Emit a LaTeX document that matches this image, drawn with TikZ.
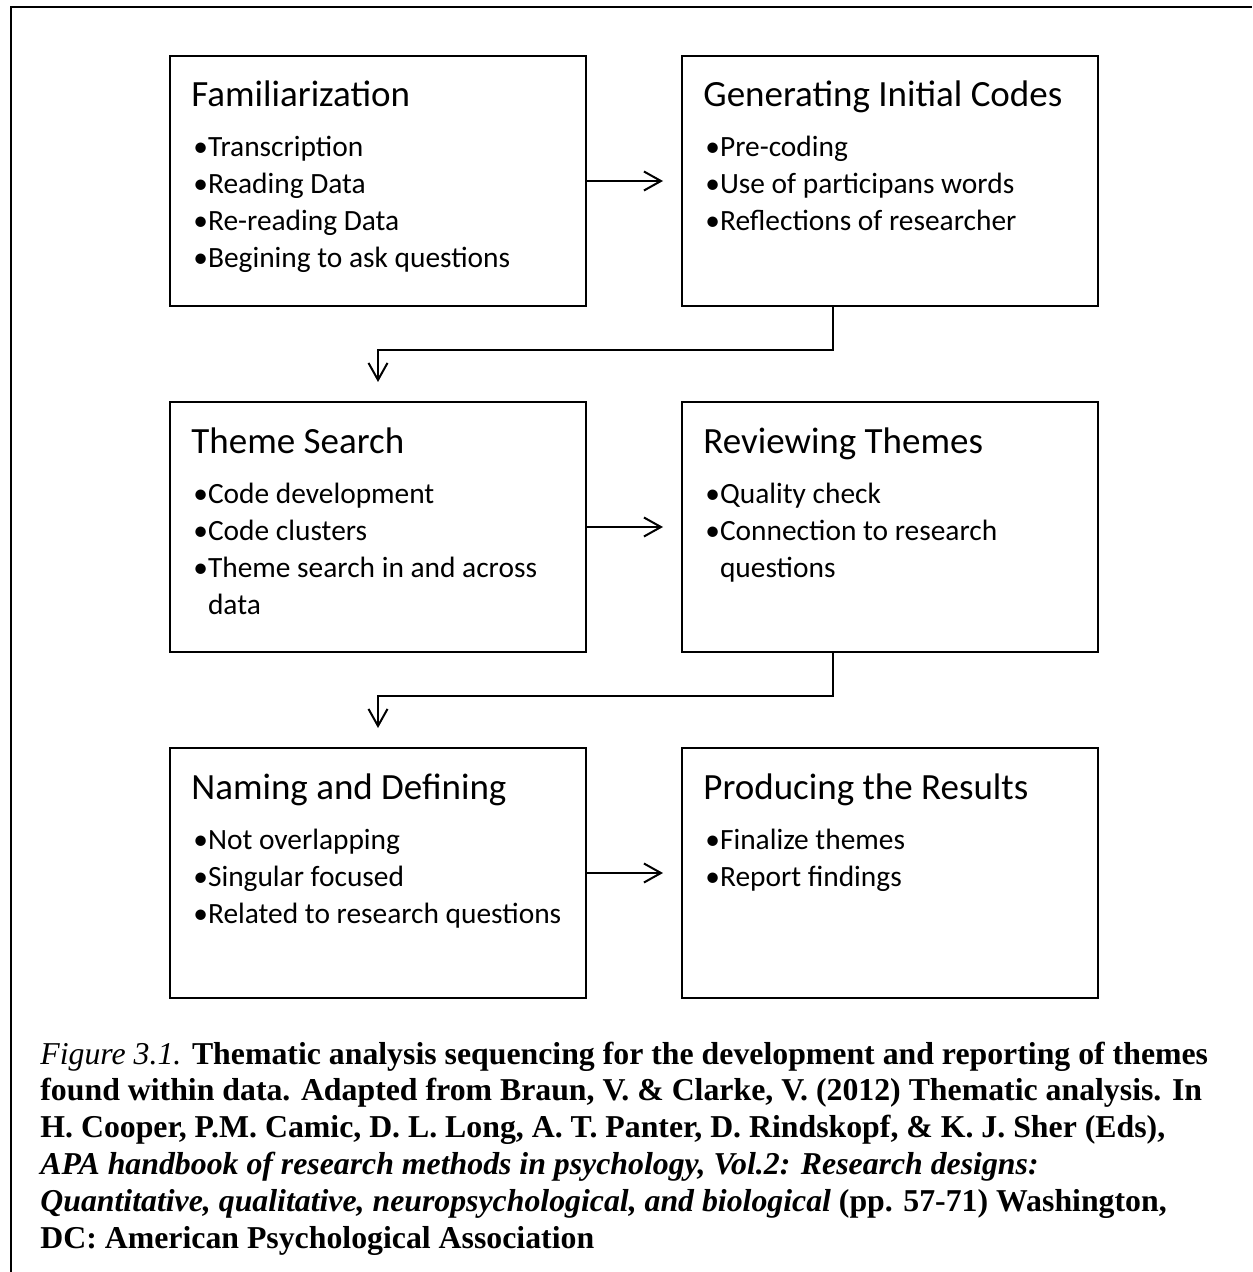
\documentclass[tikz,border=0pt]{standalone}
\usepackage{fontspec}
\setmainfont{Liberation Serif}
\newfontfamily\boxfont{Carlito}
\usetikzlibrary{arrows.meta, positioning, calc}

\newcommand{\bul}{\textbullet}
\newcommand{\hang}{\phantom{\textbullet}}

\begin{document}
\begin{tikzpicture}[
    x=0.5pt, y=-0.5pt,
    every node/.style={inner sep=0pt},
]

% ---------------------------------------------------------------- colours
\definecolor{ink}{HTML}{000000}   % boxes, arrows, text

% ================================================================
% Geometry, in pixels of the page (y grows downwards).
%
%   page 1252 x 1272, frame open to the right and below:
%   left rule x = 11, top rule y = 7
%
%   two columns of boxes 416 wide, 250 high
%   left column  x = 169 .. 585   (centre 377)
%   right column x = 681 .. 1097
%   rows: tops at y = 55, 401, 747  (pitch 346)
%
%   arrows right: from box east, stop 18 short of the next box
%   arrows down: leave right box 152 in from its left side,
%   drop 43, run left to x = 377, stop 19 above the next box
%
%   caption: six lines, base at y = 1064, pitch 36.8, from x = 40
% ================================================================

\tikzset{
    stagebox/.style={
        draw=ink, line width=1pt,
        minimum width=208pt, minimum height=125pt,
        anchor=north west,
    },
    stagetitle/.style={font=\boxfont\fontsize{18.5}{21}\selectfont,
        text=ink, anchor=base west},
    stagepoint/.style={font=\boxfont\fontsize{14.7}{17}\selectfont,
        text=ink, anchor=base west},
    flow/.style={
        draw=ink, line width=1pt,
        -{Straight Barb[length=8.5pt, width=9.5pt, line width=1pt]},
    },
    frame/.style={draw=ink, line width=1pt},
    captionline/.style={font=\bfseries\fontsize{15.9}{18.4}\selectfont,
        text=ink, anchor=base west},
}

\useasboundingbox (0,0) rectangle (1252,1272);

% ---------------------------------------------------------------- frame
\draw[frame] (11,1272) |- (1252,7);

% ---------------------------------------------------------------- the boxes
\foreach \n/\x/\y/\ttl in {1/169/55/Familiarization,
                           2/681/55/Generating Initial Codes,
                           3/169/401/Theme Search,
                           4/681/401/Reviewing Themes,
                           5/169/747/Naming and Defining,
                           6/681/747/Producing the Results} {
    \node[stagebox] (b\n) at (\x,\y) {};
    \node[stagetitle] (b\n-t) at ($(b\n.north west)+(22,52)$) {\ttl};
}

% ---------------------------------------------------------------- the points
\foreach \n/\items in {
    1/{\bul Transcription, \bul Reading Data, \bul Re-reading Data,
       \bul Begining to ask questions},
    2/{\bul Pre-coding, \bul Use of participans words,
       \bul Reflections of researcher},
    3/{\bul Code development, \bul Code clusters,
       \bul Theme search in and across, \hang data},
    4/{\bul Quality check, \bul Connection to research, \hang questions},
    5/{\bul Not overlapping, \bul Singular focused,
       \bul Related to research questions},
    6/{\bul Finalize themes, \bul Report findings}} {
    \foreach \ln [count=\k] in \items {
        \node[stagepoint] (b\n-\k) at ($(b\n.north west)+(24,65+37*\k)$) {\ln};
    }
}

% ---------------------------------------------------------------- the arrows
\foreach \a/\b in {1/2, 3/4, 5/6} {
    \coordinate (t\a) at ($(b\b.west)+(-18,0)$);
    \draw[flow] (b\a.east) -- (t\a);
}

\foreach \a/\b in {2/3, 4/5} {
    \coordinate (k\a) at ($(b\a.south west)+(152,0)$);
    \coordinate (d\b) at ($(b\b.north)+(0,-19)$);
    \draw[flow] (k\a) -- ++(0,43) -| (d\b);
}

% ---------------------------------------------------------------- caption
\foreach \k/\txt in {
    1/{{\mdseries\itshape Figure 3.1.} Thematic analysis sequencing for the development and reporting of themes},
    2/{found within data. Adapted from Braun, V. \& Clarke, V. (2012) Thematic analysis. In},
    3/{H. Cooper, P.M. Camic, D. L. Long, A. T. Panter, D. Rindskopf, \& K. J. Sher (Eds),},
    4/{\textit{APA handbook of research methods in psychology, Vol.2: Research designs:}},
    5/{\textit{Quantitative, qualitative, neuropsychological, and biological} (pp. 57-71) Washington,},
    6/{DC: American Psychological Association}} {
    \node[captionline] (cap\k) at (40,{1064+36.8*(\k-1)}) {\txt};
}

\end{tikzpicture}
\end{document}
